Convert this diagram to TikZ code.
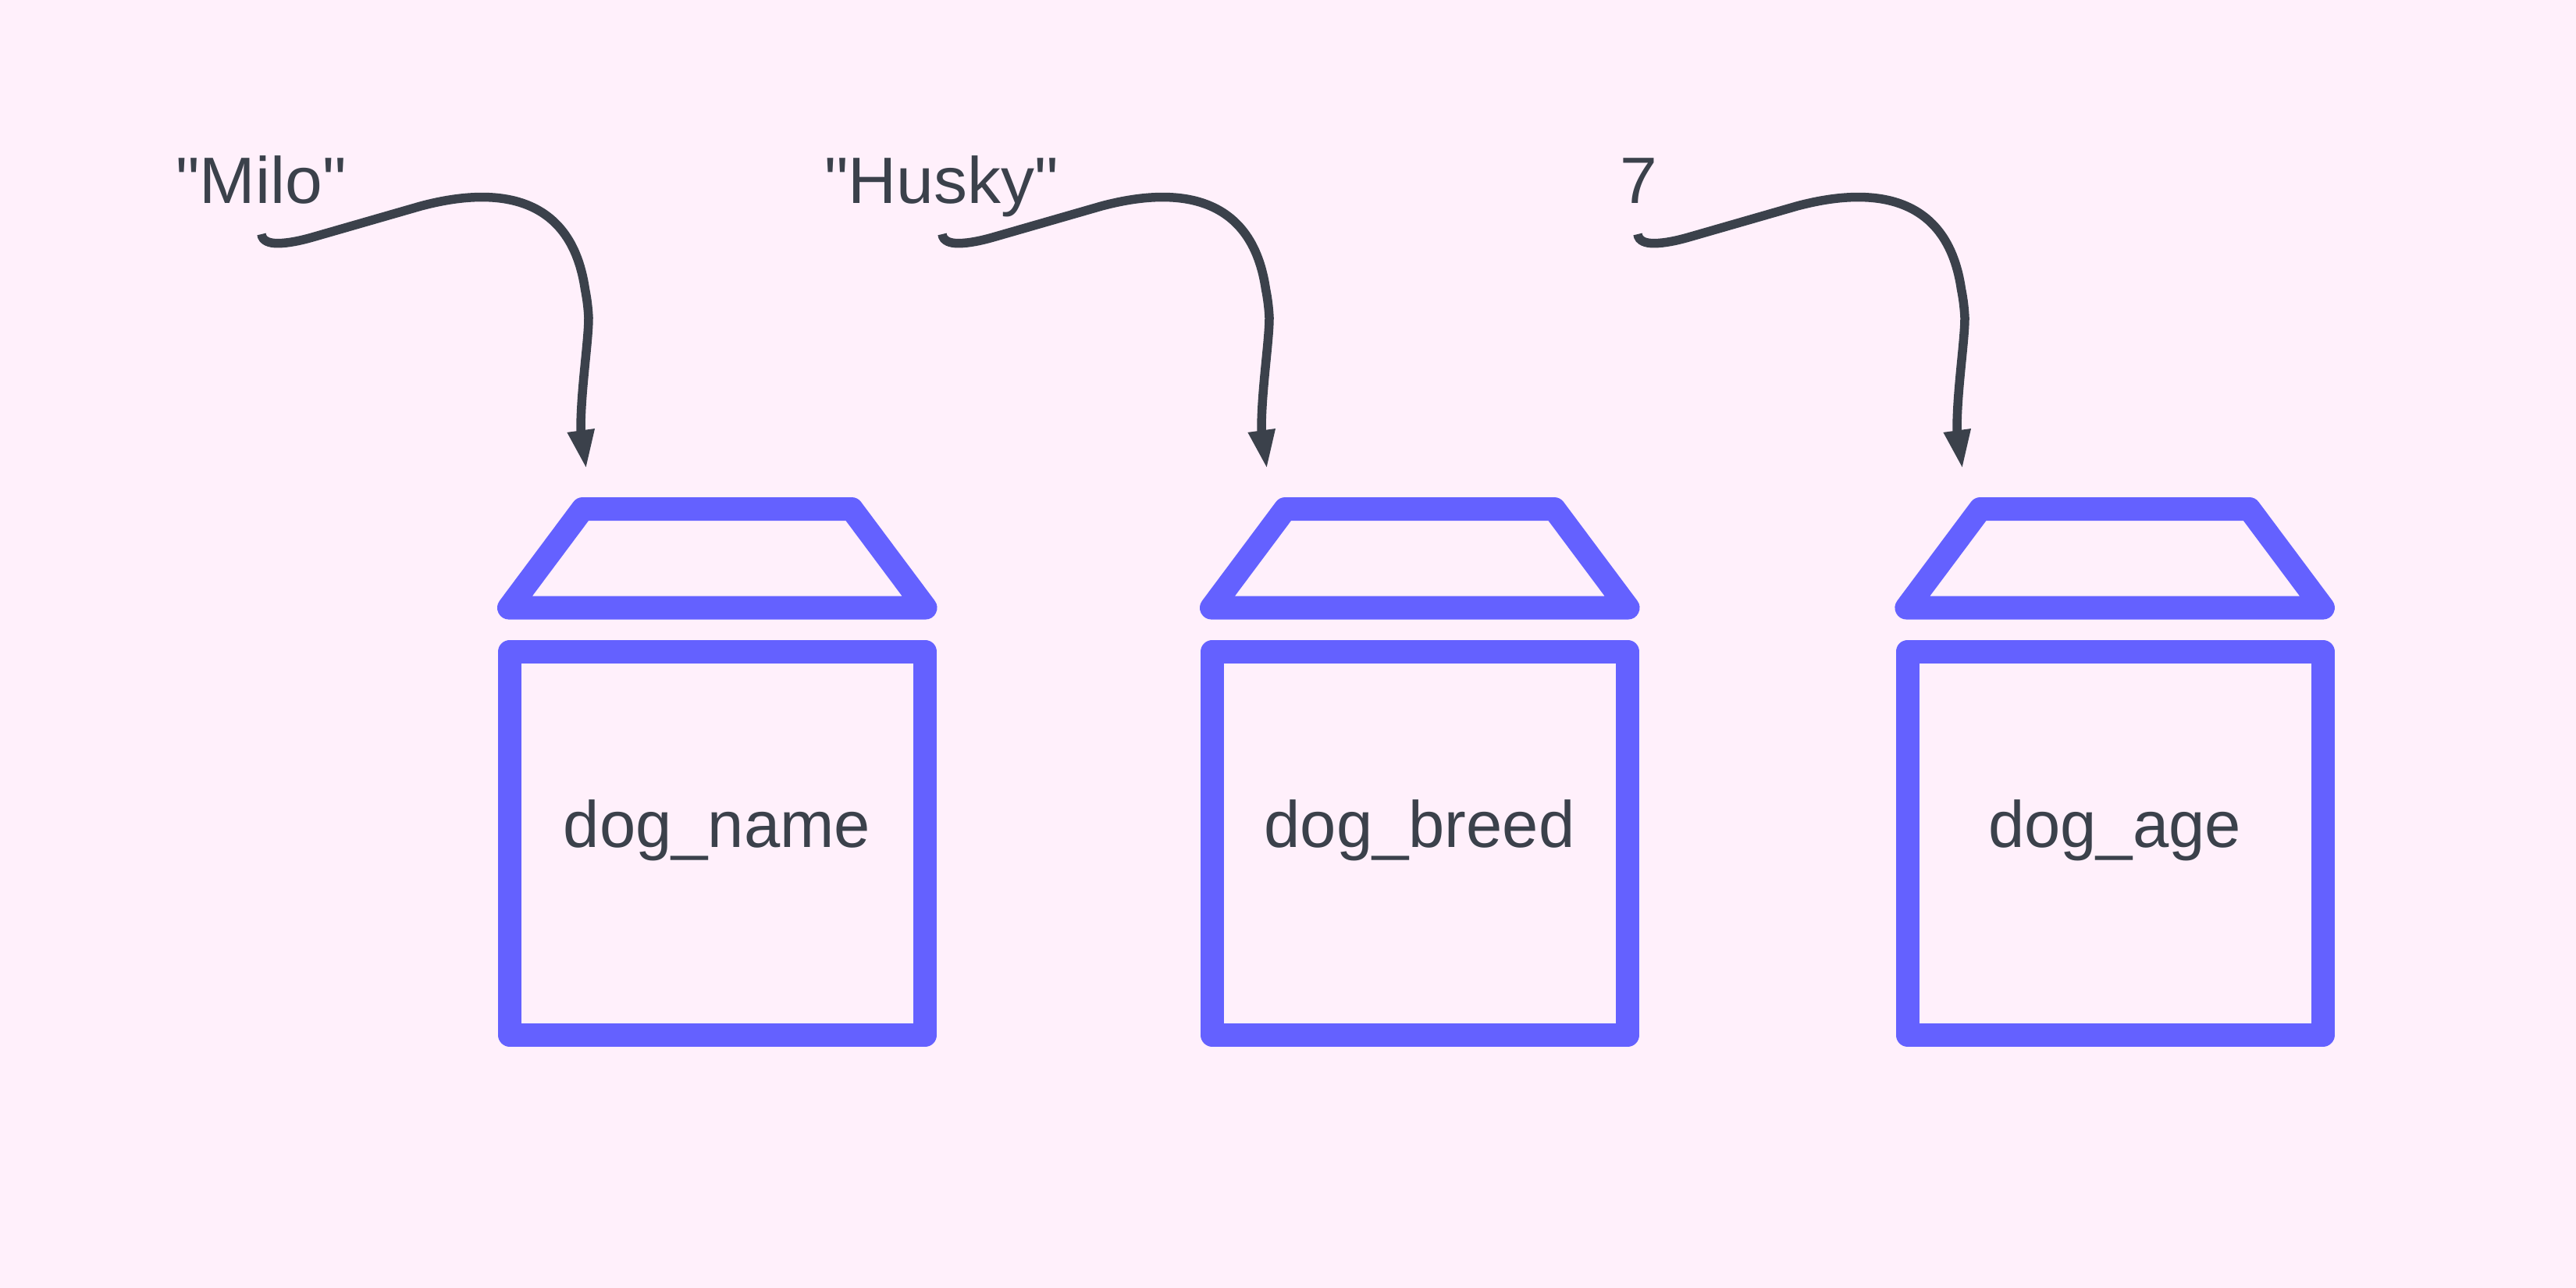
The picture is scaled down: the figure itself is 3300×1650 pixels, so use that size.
\documentclass[tikz,border=0pt]{standalone}
\usepackage{fontspec}
\newfontfamily\valuefont[FakeStretch=1.022]{Liberation Sans}
\newfontfamily\namefont[FakeStretch=0.99]{Liberation Sans}
\usetikzlibrary{arrows.meta,calc}
\definecolor{bgpink}{HTML}{FFF0FB}
\definecolor{boxblue}{HTML}{6461FF}
\definecolor{inkgrey}{HTML}{3B414B}
\tikzset{
  x=0.03cm,y=-0.03cm,
  boxbody/.style={draw=boxblue,line width=0.9cm,line join=round,inner sep=0pt,minimum width=15.96cm,minimum height=14.73cm},
  boxlid/.style={draw=boxblue,line width=0.9cm,line join=round},
  valuetext/.style={text=inkgrey,font=\valuefont\fontsize{71.7pt}{80pt}\selectfont,inner sep=0pt,anchor=base west},
  nametext/.style={text=inkgrey,font=\namefont\fontsize{71.7pt}{80pt}\selectfont,inner sep=0pt,anchor=base},
  flow/.style={draw=inkgrey,line width=0.345cm,-{Triangle[length=1.5cm,width=0.96cm]}},
}
\newcommand{\storebox}[6]{%
  % #1 id, #2 value text, #3 value x, #4 box shift, #5 arrow shift, #6 name
  \node[valuetext] (#1val) at (#3,260.7) {#2};
  \node[boxbody] (#1box) at (#4+919.2,1080.3) {};
  \node[nametext] (#1name) at (#4+918.5,1085.5) {#6};
  \coordinate (#1a) at (#4+652,778.6);
  \coordinate (#1b) at (#4+746.5,652);
  \coordinate (#1c) at (#4+1091,652);
  \coordinate (#1d) at (#4+1185.5,778.6);
  \draw[boxlid] (#1a) -- (#1b) -- (#1c) -- (#1d) -- cycle;
  \coordinate (#1s) at (#5+335,300);
  \coordinate (#1l) at (#5+355.5,311.7);
  \coordinate (#1m) at (#5+400,304);
  \coordinate (#1n) at (#5+539,264);
  \coordinate (#1p) at (#5+749.4,370);
  \coordinate (#1q) at (#5+754,407);
  \coordinate (#1r) at (#5+744,550);
  \coordinate (#1t) at (#5+751,601);
  \draw[flow] (#1s) .. controls ($(#1s)+(1,9)$) and ($(#1l)+(-10,0)$) .. (#1l)
    .. controls ($(#1l)+(14,0)$) and ($(#1m)+(-14,4)$) .. (#1m) -- (#1n)
    .. controls ($(#1n)+(75,-20)$) and ($(#1p)+(-20,-135)$) .. (#1p)
    .. controls ($(#1p)+(3,15)$) and ($(#1q)+(-0.5,-10)$) .. (#1q)
    .. controls ($(#1q)+(0,30)$) and ($(#1r)+(0,-50)$) .. (#1r) -- (#1t);
}
\begin{document}
\begin{tikzpicture}
  \useasboundingbox (0,0) rectangle (3300,1650);
  \fill[bgpink] (0,0) rectangle (3300,1650);
  \storebox{one}{"Milo"}{225}{0}{0}{dog\_name}
  \storebox{two}{"Husky"}{1056}{900}{872}{dog\_breed}
  \storebox{three}{7}{2075}{1790.4}{1763}{dog\_age}
\end{tikzpicture}
\end{document}
